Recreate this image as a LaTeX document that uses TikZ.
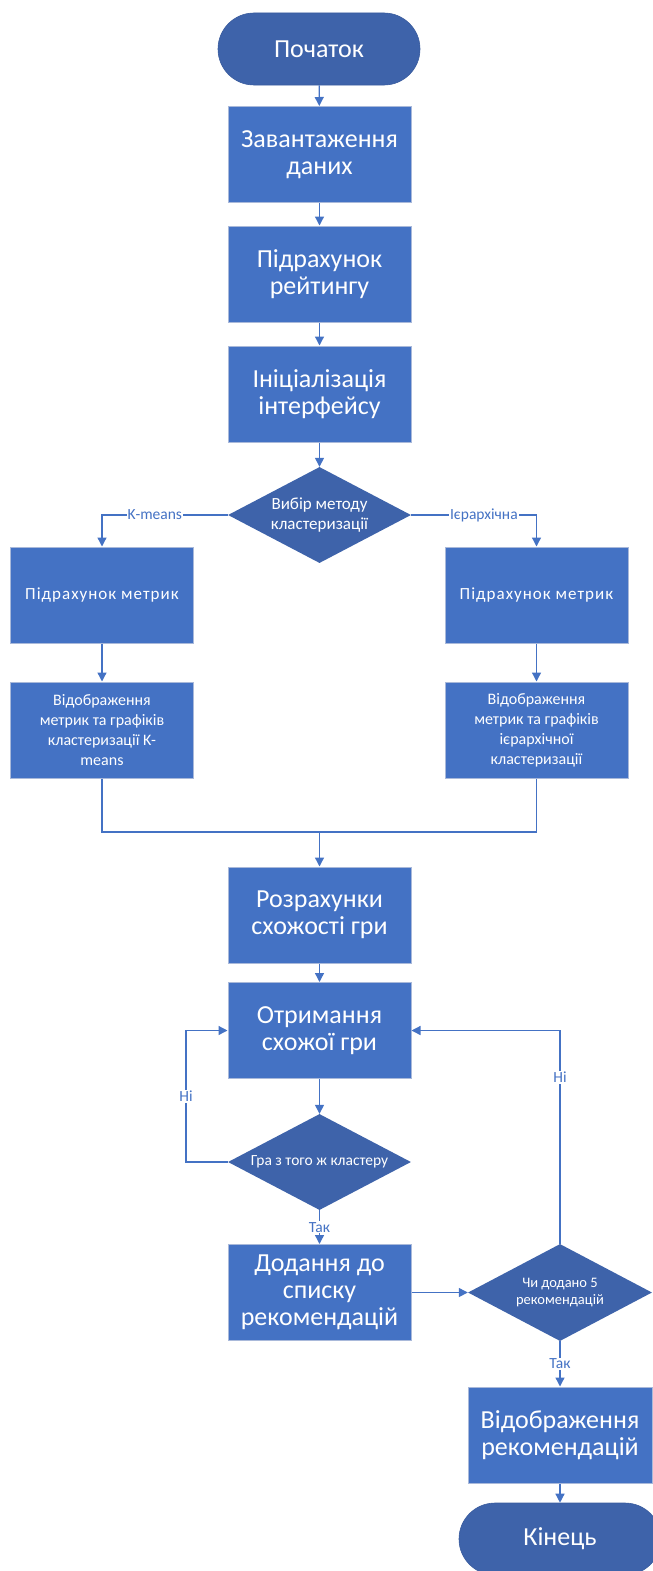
\documentclass[tikz,border=0pt]{standalone}
\usepackage{fontspec}
\setmainfont{Carlito}
\newfontfamily\widefont[LetterSpace=6]{Carlito}
\usetikzlibrary{arrows.meta,shapes.geometric}
\definecolor{boxblue}{HTML}{4472C4}
\definecolor{darkblue}{HTML}{3E63AA}
\definecolor{boxedge}{HTML}{A9B9DA}
\definecolor{termedge}{HTML}{3A5C9E}
\tikzset{
  box/.style={rectangle, fill=boxblue, draw=boxedge, line width=1pt, minimum width=183pt, minimum height=96pt, text=white, align=center, inner sep=2pt, font=\fontsize{26}{27}\selectfont},
  sbox/.style={box, font=\fontsize{16}{20}\selectfont},
  wbox/.style={box, font=\widefont\fontsize{17}{20}\selectfont},
  term/.style={rectangle, rounded corners=36pt, fill=darkblue, draw=termedge, line width=0.6pt, minimum width=202pt, minimum height=72pt, text=white, font=\fontsize{26}{27}\selectfont},
  dia/.style={diamond, fill=darkblue, draw=none, minimum width=183pt, minimum height=96pt, inner sep=0pt},
  ditext/.style={text=white, align=center, inner sep=0pt},
  conn/.style={draw=boxblue, line width=1.3pt},
  arr/.style={conn, -{Triangle[length=9pt,width=9pt]}},
  lbl/.style={fill=white, text=boxblue, inner sep=1pt, font=\fontsize{15.5}{17}\selectfont},
}
\begin{document}
\begin{tikzpicture}[x=1pt,y=-1pt]
\useasboundingbox (0,0) rectangle (653,1571);
\clip (0,0) rectangle (653,1571);
\node[term] (start) at (319,49) {Початок};
\node[box] (b1) at (319.5,154.5) {Завантаження\\даних};
\node[box] (b2) at (319.5,274) {Підрахунок\\рейтингу};
\node[box] (b3) at (319.5,394) {Ініціалізація\\інтерфейсу};
\node[dia] (d1) at (319.5,515) {};
\node[ditext, font=\fontsize{17}{20.5}\selectfont] (d1t) at (d1) {Вибір методу\\кластеризації};
\node[wbox] (l1) at (102,595) {Підрахунок метрик};
\node[sbox] (l2) at (102,730) {Відображення\\метрик та графіків\\кластеризації K-\\means};
\node[wbox] (r1) at (536.5,595) {Підрахунок метрик};
\node[sbox] (r2) at (536.5,730) {Відображення\\метрик та графіків\\ієрархічної\\кластеризації};
\node[box] (b4) at (319.5,915) {Розрахунки\\схожості гри};
\node[box] (b5) at (319.5,1030.5) {Отримання\\схожої гри};
\node[dia] (d2) at (319.5,1162) {};
\node[ditext, font=\fontsize{15.5}{17}\selectfont] (d2t) at (d2) {Гра з того ж кластеру};
\node[box] (b6) at (319.5,1292.5) {Додання до\\списку\\рекомендацій};
\node[dia, minimum width=184pt, minimum height=97pt] (d3) at (560,1292.5) {};
\node[ditext, font=\fontsize{14.5}{17}\selectfont] (d3t) at (d3) {Чи додано 5\\рекомендацій};
\node[box, minimum width=184pt] (b7) at (560,1435) {Відображення\\рекомендацій};
\node[term] (end) at (560,1539) {Кінець};
\coordinate (m) at (319.5,832);
\coordinate (lc) at (186,1162);
\coordinate (lt) at (186,1030.5);
\coordinate (rt) at (560,1030.5);
% connectors
\draw[arr] (start) -- (b1);
\draw[arr] (b1) -- (b2);
\draw[arr] (b2) -- (b3);
\draw[arr] (b3) -- (d1.north);
\draw[arr] (d1.west) -- (l1.north |- d1.west) node[lbl, pos=0.58] {K-means} -- (l1.north);
\draw[arr] (d1.east) -- (r1.north |- d1.east) node[lbl, pos=0.58] {Ієрархічна} -- (r1.north);
\draw[arr] (l1) -- (l2);
\draw[arr] (r1) -- (r2);
\draw[conn] (l2.south) -- (l2.south |- m) -- (r2.south |- m) -- (r2.south);
\draw[arr] (m) -- (b4.north);
\draw[arr] (b4) -- (b5);
\draw[arr] (b5) -- (d2.north);
\draw[arr] (d2.west) -- (lc) -- node[lbl, pos=0.5] {Ні} (lt) -- (b5.west);
\draw[arr] (d2.south) -- node[lbl, pos=0.5] {Так} (b6.north);
\draw[arr] (b6.east) -- (d3.west);
\draw[arr] (d3.north) -- node[lbl, pos=0.78] {Ні} (rt) -- (b5.east);
\draw[arr] (d3.south) -- node[lbl, pos=0.5] {Так} (b7.north);
\draw[arr] (b7) -- (end);
\end{tikzpicture}
\end{document}
